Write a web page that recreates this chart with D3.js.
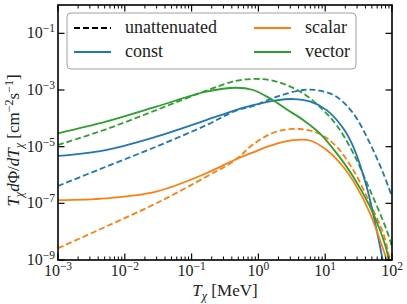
<!DOCTYPE html>
<html>
<head>
<meta charset="utf-8">
<script src="https://cdn.jsdelivr.net/npm/d3@7"></script>
<style>
  body { margin: 0; background: #fff; }
  svg text { font-family: "Liberation Serif", "Times New Roman", Times, "DejaVu Serif", serif; fill: #222; }
</style>
</head>
<body>
<div id="chart"></div>
<script>
// T_chi in MeV, flux in cm^-2 s^-1
const vectorT    = [1e-3, 5.2e-3, 2.95e-2, 0.166, 0.46, 0.83, 1.48, 2.63, 4.68, 8.3, 14.8, 26.3, 46.8, 66, 83, 93];
const vectorAtt  = [2.95e-5, 7.6e-5, 2.57e-4, 8.7e-4, 1.2e-3, 1.0e-3, 5.1e-4, 2.1e-4, 8.7e-5, 2.95e-5, 5.9e-6, 8.7e-7, 7.6e-8, 1.15e-8, 2.2e-9, 5e-10];
const vectorUnT  = [1e-3, 5.2e-3, 2.95e-2, 0.166, 0.46, 0.83, 1.48, 2.63, 4.68, 8.3, 14.8, 26.3, 46.8, 83, 100];
const vectorUn   = [1.15e-5, 4.1e-5, 1.95e-4, 9.5e-4, 2.1e-3, 2.45e-3, 2.25e-3, 1.5e-3, 7.6e-4, 2.57e-4, 5.75e-5, 5.9e-6, 2.95e-7, 1.15e-8, 2.95e-9];

const constT     = [1e-3, 5.2e-3, 2.95e-2, 0.166, 0.46, 0.83, 1.86, 3.3, 5.9, 10.5, 18.6, 26.3, 41.7, 58.9, 71, 78];
const constAtt   = [4.7e-6, 7.6e-6, 2.25e-5, 8.7e-5, 1.95e-4, 2.9e-4, 4.3e-4, 4.8e-4, 3.95e-4, 1.95e-4, 4.5e-5, 1e-5, 3.9e-7, 1.15e-8, 1.3e-9, 4e-10];
const constUnT   = [1e-3, 5.2e-3, 2.95e-2, 0.166, 0.46, 0.83, 1.86, 4.68, 8.3, 14.8, 26.3, 46.8, 74, 100];
const constUn    = [4.1e-7, 1.95e-6, 1e-5, 5.75e-5, 1.86e-4, 2.7e-4, 5.75e-4, 1e-3, 9.5e-4, 5.75e-4, 1.5e-4, 1.3e-5, 1.15e-6, 1.7e-7];

const scalarT    = [1e-3, 5.2e-3, 2.95e-2, 0.166, 0.46, 0.83, 1.48, 3.3, 5.9, 10.5, 18.6, 29.5, 46.8, 66, 83, 90];
const scalarAtt  = [1.3e-7, 1.5e-7, 2.6e-7, 1.15e-6, 3.6e-6, 6.3e-6, 1.07e-5, 1.7e-5, 1.65e-5, 7.6e-6, 1.95e-6, 3.9e-7, 4.5e-8, 5.1e-9, 1e-9, 4e-10];
const scalarUnT  = [1e-3, 5.2e-3, 2.95e-2, 0.166, 0.46, 0.83, 1.86, 4.17, 8.3, 14.8, 26.3, 46.8, 74, 93, 100];
const scalarUn   = [2.6e-9, 1.5e-8, 1e-7, 8.7e-7, 3.5e-6, 1.2e-5, 3.4e-5, 4.2e-5, 2.8e-5, 1e-5, 1.5e-6, 1e-7, 8.7e-9, 1e-9, 4e-10];

const xTicks = [1e-3, 1e-2, 1e-1, 1e0, 1e1, 1e2];
const xTickExp = ["−3", "−2", "−1", "0", "1", "2"];
const yTicks = [1e-9, 1e-7, 1e-5, 1e-3, 1e-1];
const yTickExp = ["−9", "−7", "−5", "−3", "−1"];

const colors = { const: "#1f77b4", scalar: "#ff7f0e", vector: "#2ca02c" };

const width = 407, height = 304;
const margin = { left: 58, right: 15, top: 5, bottom: 44 };

const x = d3.scaleLog().domain([1e-3, 1e2]).range([margin.left, width - margin.right]);
const y = d3.scaleLog().domain([1e-9, 1e0]).range([height - margin.bottom, margin.top]);

const svg = d3.select("#chart").append("svg")
  .attr("width", width)
  .attr("height", height);

svg.append("clipPath").attr("id", "clip")
  .append("rect")
  .attr("x", margin.left).attr("y", margin.top)
  .attr("width", x.range()[1] - margin.left)
  .attr("height", y.range()[0] - margin.top);

const series = [
  { t: vectorUnT, v: vectorUn, c: colors.vector, dash: true },
  { t: constUnT, v: constUn, c: colors.const, dash: true },
  { t: scalarUnT, v: scalarUn, c: colors.scalar, dash: true },
  { t: constT, v: constAtt, c: colors.const, dash: false },
  { t: scalarT, v: scalarAtt, c: colors.scalar, dash: false },
  { t: vectorT, v: vectorAtt, c: colors.vector, dash: false }
];

const line = d3.line()
  .x(d => x(d[0]))
  .y(d => y(d[1]))
  .curve(d3.curveCatmullRom.alpha(0.5));

svg.append("g").attr("clip-path", "url(#clip)")
  .selectAll("path")
  .data(series)
  .join("path")
  .attr("d", s => line(s.t.map((t, i) => [t, s.v[i]])))
  .attr("fill", "none")
  .attr("stroke", s => s.c)
  .attr("stroke-width", 1.8)
  .attr("stroke-dasharray", s => s.dash ? "6,3" : null);

// ticks, pointing inwards on all four sides
const x0 = x.range()[0], x1 = x.range()[1];
const y0 = y.range()[0], y1 = y.range()[1];
const minorX = [];
for (let e = -3; e < 2; e++) for (let k = 2; k <= 9; k++) minorX.push(k * Math.pow(10, e));

const ticks = svg.append("g").attr("stroke", "#000").attr("stroke-width", 1.2);
xTicks.forEach(t => {
  ticks.append("line").attr("x1", x(t)).attr("x2", x(t)).attr("y1", y0).attr("y2", y0 - 6.5);
  ticks.append("line").attr("x1", x(t)).attr("x2", x(t)).attr("y1", y1).attr("y2", y1 + 6.5);
});
minorX.forEach(t => {
  ticks.append("line").attr("x1", x(t)).attr("x2", x(t)).attr("y1", y0).attr("y2", y0 - 3.5).attr("stroke-width", 1);
  ticks.append("line").attr("x1", x(t)).attr("x2", x(t)).attr("y1", y1).attr("y2", y1 + 3.5).attr("stroke-width", 1);
});
yTicks.forEach(t => {
  ticks.append("line").attr("x1", x0).attr("x2", x0 + 6.5).attr("y1", y(t)).attr("y2", y(t));
  ticks.append("line").attr("x1", x1).attr("x2", x1 - 6.5).attr("y1", y(t)).attr("y2", y(t));
});

svg.append("rect")
  .attr("x", x0).attr("y", y1)
  .attr("width", x1 - x0).attr("height", y0 - y1)
  .attr("fill", "none").attr("stroke", "#000").attr("stroke-width", 1.6);

// tick labels
xTicks.forEach((t, i) => {
  const txt = svg.append("text")
    .attr("x", x(t)).attr("y", y0 + 16)
    .attr("text-anchor", "middle")
    .style("font-size", "16px");
  txt.append("tspan").text("10");
  txt.append("tspan").attr("dy", -6).style("font-size", "11.5px").text(xTickExp[i]);
});
yTicks.forEach((t, i) => {
  const txt = svg.append("text")
    .attr("x", x0 - 3).attr("y", y(t) + 5)
    .attr("text-anchor", "end")
    .style("font-size", "16px");
  txt.append("tspan").text("10");
  txt.append("tspan").attr("dy", -6).style("font-size", "11.5px").text(yTickExp[i]);
});

// axis labels
const xl = svg.append("text")
  .attr("x", (x0 + x1) / 2).attr("y", 296)
  .attr("text-anchor", "middle")
  .style("font-size", "17px");
xl.append("tspan").style("font-style", "italic").text("T");
xl.append("tspan").attr("dy", 4).style("font-size", "12px").style("font-style", "italic").text("χ");
xl.append("tspan").attr("dy", -4).text(" [MeV]");

const yl = svg.append("text")
  .attr("transform", `translate(19,${(y0 + y1) / 2 + 8}) rotate(-90)`)
  .attr("text-anchor", "middle")
  .style("font-size", "17px");
yl.append("tspan").style("font-style", "italic").text("T");
yl.append("tspan").attr("dy", 4).style("font-size", "12px").style("font-style", "italic").text("χ");
yl.append("tspan").attr("dy", -4).style("font-style", "italic").text("d");
yl.append("tspan").text("Φ/");
yl.append("tspan").style("font-style", "italic").text("dT");
yl.append("tspan").attr("dy", 4).style("font-size", "12px").style("font-style", "italic").text("χ");
yl.append("tspan").attr("dy", -4).text(" [cm");
yl.append("tspan").attr("dy", -6).style("font-size", "12px").text("−2");
yl.append("tspan").attr("dy", 6).text("s");
yl.append("tspan").attr("dy", -6).style("font-size", "12px").text("−1");
yl.append("tspan").attr("dy", 6).text("]");

// legend
const legend = svg.append("g");
legend.append("rect")
  .attr("x", 67).attr("y", 13).attr("width", 289).attr("height", 56)
  .attr("rx", 4)
  .attr("fill", "#fff").attr("fill-opacity", 0.85)
  .attr("stroke", "#a0a0a0").attr("stroke-width", 1);

const legendItems = [
  { label: "unattenuated", c: "#000", dash: true, lx: 74, ly: 28 },
  { label: "const", c: colors.const, dash: false, lx: 74, ly: 52 },
  { label: "scalar", c: colors.scalar, dash: false, lx: 254, ly: 28 },
  { label: "vector", c: colors.vector, dash: false, lx: 254, ly: 52 }
];
legendItems.forEach(d => {
  legend.append("line")
    .attr("x1", d.lx).attr("x2", d.lx + 37)
    .attr("y1", d.ly).attr("y2", d.ly)
    .attr("stroke", d.c).attr("stroke-width", 1.8)
    .attr("stroke-dasharray", d.dash ? "6,3" : null);
  legend.append("text")
    .attr("x", d.lx + 51).attr("y", d.ly + 5)
    .style("font-size", "18px")
    .text(d.label);
});
</script>
</body>
</html>
